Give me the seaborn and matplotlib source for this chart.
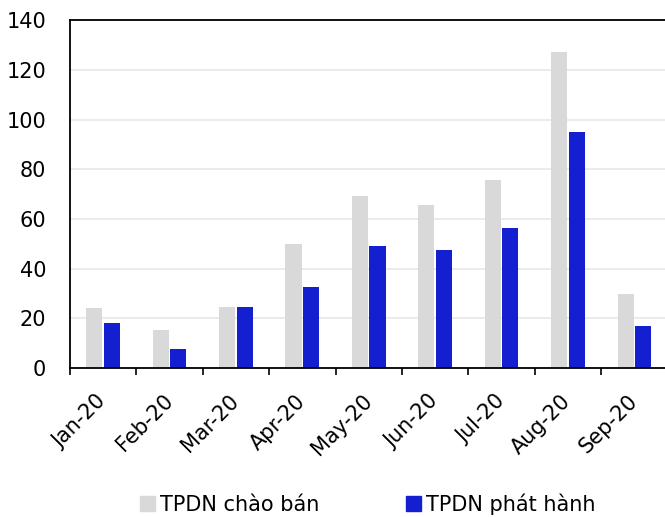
import pandas as pd
import numpy as np
import matplotlib.pyplot as plt
import seaborn as sns

# Data
months = ['Jan-20', 'Feb-20', 'Mar-20', 'Apr-20', 'May-20', 'Jun-20', 'Jul-20', 'Aug-20', 'Sep-20']
chao_ban = [24.1, 15.3, 24.7, 49.9, 69.2, 65.8, 75.6, 127.1, 29.9]
phat_hanh = [18.0, 7.8, 24.4, 32.5, 49.1, 47.6, 56.2, 95.1, 16.9]
series_names = ['TPDN chào bán', 'TPDN phát hành']
colors = ['#D9D9D9', '#1420CF']

df = pd.DataFrame({
    'month': months * 2,
    'value': chao_ban + phat_hanh,
    'series': [series_names[0]] * len(months) + [series_names[1]] * len(months),
})

sns.set_style('white')
plt.rcParams['font.family'] = ['DejaVu Sans']
plt.rcParams['text.color'] = 'black'
plt.rcParams['xtick.color'] = 'black'
plt.rcParams['ytick.color'] = 'black'

fs = 15

fig = plt.figure(figsize=(6.65, 5.17), dpi=100)
ax = fig.add_axes([0.105, 0.288, 0.899, 0.673])

sns.barplot(data=df, x='month', y='value', hue='series', order=months,
            hue_order=series_names, palette=colors, width=0.53, gap=0.08,
            saturation=1, linewidth=0, edgecolor='none', ax=ax, legend=False)

ax.set_ylim(0, 140)
ax.set_yticks(range(0, 141, 20))
ax.set_xlim(-0.5, len(months) - 0.5)
ax.yaxis.grid(True, color='#E8E8E8', linewidth=1.2)
ax.set_axisbelow(True)
ax.set_xlabel('')
ax.set_ylabel('')

for side in ['left', 'bottom', 'top']:
    ax.spines[side].set_visible(True)
    ax.spines[side].set_color('black')
    ax.spines[side].set_linewidth(1.3)
ax.spines['right'].set_visible(False)

ax.tick_params(axis='y', length=0, pad=17, labelsize=fs)
ax.set_xticks(np.arange(-0.5, len(months), 1), minor=True)
ax.tick_params(axis='x', which='minor', length=5, width=1.2, direction='out', bottom=True)
ax.tick_params(axis='x', which='major', length=0, pad=21.5, labelsize=fs)
ax.set_xticks(range(len(months)))
ax.set_xticklabels(months, rotation=45, ha='right', va='center', rotation_mode='anchor')

handles = [plt.Rectangle((0, 0), 1, 1, color=c) for c in colors]
fig.legend(handles, series_names, loc='center', bbox_to_anchor=(0.553, 0.025),
           ncol=2, frameon=False, fontsize=fs, handlelength=0.7, handleheight=0.7,
           handletextpad=0.24, columnspacing=4.2)

fig.savefig('out.png', dpi=100)
